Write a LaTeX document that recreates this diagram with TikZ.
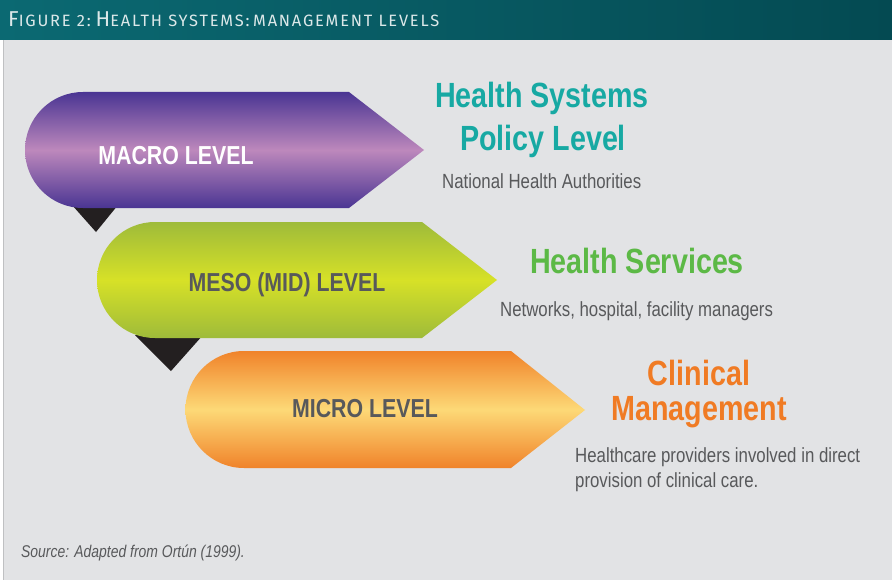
\documentclass[tikz,border=0pt]{standalone}
\usepackage{fontspec}
\usepackage{xcolor}
\setmainfont{Liberation Sans}
\newfontfamily\narrowfont[FakeStretch=0.82]{Liberation Sans}
\newfontfamily\headfont[LetterSpace=11]{Fira Sans}
\newcommand\capbig{\fontsize{21.5}{21.5}\selectfont}
\newcommand\capsmall{\fontsize{16.4}{16.4}\selectfont}

\definecolor{headdark}{HTML}{044A52}
\definecolor{headlight}{HTML}{0B6972}
\definecolor{headtext}{HTML}{DCE8E9}
\definecolor{panelgray}{HTML}{E2E3E5}
\definecolor{panelline}{HTML}{BFC0C2}
\definecolor{macrodark}{HTML}{4A3593}
\definecolor{macrolight}{HTML}{BD88BC}
\definecolor{mesodark}{HTML}{9EBB3A}
\definecolor{mesolight}{HTML}{D7E127}
\definecolor{microdark}{HTML}{F0832A}
\definecolor{microlight}{HTML}{FDD977}
\definecolor{tabblack}{HTML}{231F20}
\definecolor{textgray}{HTML}{58595B}
\definecolor{policyteal}{HTML}{17A9A3}
\definecolor{servicegreen}{HTML}{5CB946}
\definecolor{clinicorange}{HTML}{F07B24}

\begin{document}
\begin{tikzpicture}[x=1pt, y=1pt,
  levelname/.style={inner sep=0pt, anchor=base, font=\narrowfont\bfseries\fontsize{26}{26}\selectfont},
  headline/.style={inner sep=0pt, anchor=base, font=\narrowfont\bfseries\fontsize{35}{35}\selectfont},
  desc/.style={inner sep=0pt, anchor=base west, text=textgray, font=\narrowfont\fontsize{20.5}{20.5}\selectfont}]

                    % panel and header bar
                    \fill[white] (0,0) rectangle (892,-580);
                    \fill[panelgray] (3,-40) rectangle (892,-580);
                    \draw[panelline, line width=1.2pt] (3.6,-40) -- (3.6,-580);
                    \shade[left color=headlight, right color=headdark] (0,0) rectangle (892,-40);
                    \useasboundingbox (0,0) rectangle (892,-580);
                    \node[anchor=base west, inner sep=0pt, text=headtext, font=\headfont] (caption) at (8,-27)
                      {{\capbig F}{\capsmall IGURE 2:} {\capbig H}{\capsmall EALTH SYSTEMS:} {\capsmall MANAGEMENT LEVELS}};

                    % black tabs under the levels
                    \fill[tabblack] (72,-205) -- (118,-205) -- (96,-232) -- cycle;
                    \fill[tabblack] (135,-335) -- (203,-335) -- (171,-371) -- cycle;

                    % level arrows
                    \shade[top color=macrodark, bottom color=macrodark, middle color=macrolight]
                      (83,-92) -- (349,-92) -- (424,-150) -- (349,-208) -- (83,-208)
                      arc[start angle=270, end angle=90, radius=58] -- cycle;
                    \shade[top color=mesodark, bottom color=mesodark, middle color=mesolight]
                      (155,-222) -- (422,-222) -- (497,-280) -- (422,-338) -- (155,-338)
                      arc[start angle=270, end angle=90, radius=58] -- cycle;
                    \shade[top color=microdark, bottom color=microdark, middle color=microlight]
                      (244,-351) -- (511,-351) -- (585,-410) -- (511,-468) -- (244,-468)
                      arc[start angle=270, end angle=90, radius=58.5] -- cycle;

                    \node[levelname, text=white] (macro) at (176,-164) {MACRO LEVEL};
                    \node[levelname, text=textgray] (meso) at (287,-291) {MESO (MID) LEVEL};
                    \node[levelname, text=textgray] (micro) at (365,-417) {MICRO LEVEL};

                    % what each level stands for
                    \node[headline, text=policyteal] (policy1) at (542,-107) {Health Systems};
                    \node[headline, text=policyteal] (policy2) at (543,-150) {Policy Level};
                    \node[desc] (policydesc) at (442,-188) {National Health Authorities};
                    \node[headline, text=servicegreen, anchor=base west] (services) at (530,-273) {Health Services};
                    \node[desc] (servicesdesc) at (500,-316) {Networks, hospital, facility managers};
                    \node[headline, text=clinicorange] (clinical1) at (699,-385) {Clinical};
                    \node[headline, text=clinicorange] (clinical2) at (699,-420) {Management};
                    \node[desc] (clinicaldesc1) at (575,-462) {Healthcare providers involved in direct};
                    \node[desc] (clinicaldesc2) at (575,-487) {provision of clinical care.};

                    \node[anchor=base west, inner sep=0pt, text=textgray, font=\narrowfont\itshape\fontsize{17}{17}\selectfont] (source) at (21,-557) {Source: Adapted from Ortún (1999).};
                \end{tikzpicture}
\end{document}
